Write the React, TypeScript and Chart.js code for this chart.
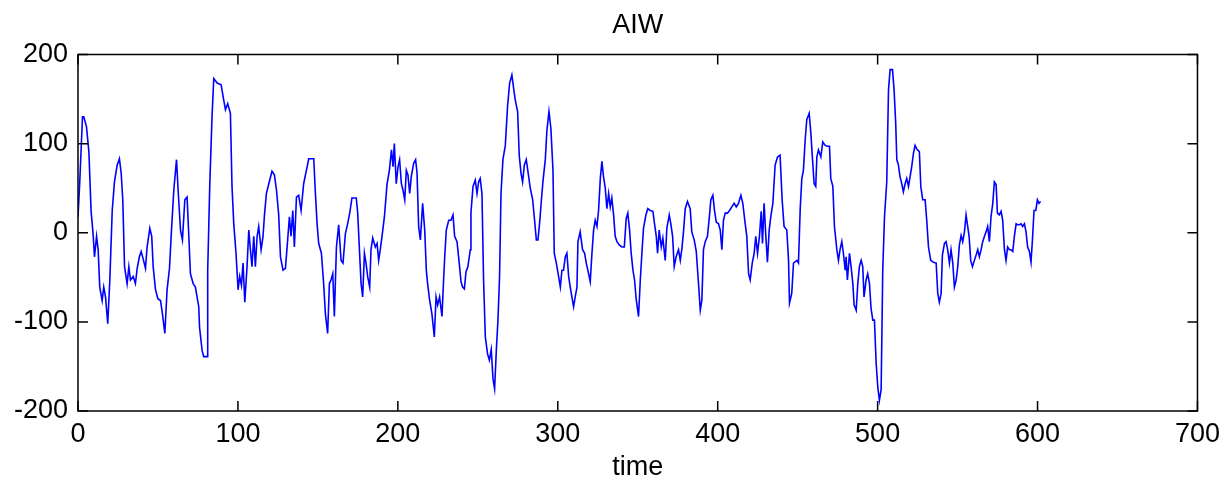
import React, { useEffect, useRef } from "react";
import { Chart, registerables } from "chart.js";

Chart.register(...registerables);

const chartTitle = "AIW";
const xAxisLabel = "time";
const xTicks = [0, 100, 200, 300, 400, 500, 600, 700];
const yTicks = [-200, -100, 0, 100, 200];

const times = [
  0, 1.1, 2.8, 3.6, 5.3, 6.8, 8.2, 9.5, 10.3, 11.6, 12.6, 13.6, 15.1, 16.1, 17.2, 18.6, 19.9, 21.4, 22.8, 24.5,
  25.9, 27, 28, 29.1, 30.7, 31.8, 32.8, 34.5, 35.9, 37, 38.4, 39.5, 40.7, 42.2, 43.2, 44.9, 46.1, 47, 48.4, 49.9,
  51.6, 52.8, 54.3, 55.7, 57.2, 58.4, 59.9, 61.6, 62.6, 64.1, 65.3, 66.8, 68.2, 69.3, 70.3, 72, 73.4, 75.5, 76, 77.6,
  78.6, 80.7, 81.1, 82.4, 83.8, 84.9, 87, 89.5, 91.1, 92.2, 93.6, 95.3, 96.3, 97.4, 98.8, 100.1, 101.1, 102.2, 103.2, 104.3,
  105.7, 106.8, 107.8, 108.8, 109.9, 110.9, 112, 113, 114.5, 115.7, 116.6, 117.8, 119.3, 121.3, 122.8, 124.1, 125.5, 126.6, 128.2, 129.7,
  131.1, 132.2, 133.2, 134.3, 135.3, 136.6, 138, 139.5, 141.1, 142.8, 144.3, 147.4, 148.4, 149.5, 150.5, 152.2, 153.6, 154.7, 156.1, 157.2,
  158.2, 159.3, 160.3, 161.6, 163, 164.5, 165.7, 167.2, 168.6, 169.9, 171.3, 174, 174.9, 175.9, 177, 178, 179.1, 180.1, 181.1, 182.4,
  183.2, 184.3, 185.9, 187, 188, 189, 190.1, 191.6, 193.2, 194.7, 196, 197, 197.8, 199, 200.1, 201.1, 202.2, 203.2, 204.3, 205.3,
  206.3, 207.4, 208.4, 209.9, 211.1, 212, 213, 214.1, 215.5, 216.8, 217.8, 218.6, 219.9, 221.3, 222.8, 223.9, 224.9, 226.1, 227.6, 228.6,
  229.3, 230.3, 231.8, 233.2, 234.5, 235.5, 237, 238.6, 239.5, 240.5, 241.6, 242.6, 243.8, 245.3, 245.7, 247, 248.4, 249.5, 250.5, 251.5,
  252.6, 253.6, 254.7, 256.1, 257.2, 258.4, 259.5, 260.5, 261.6, 262.6, 263.6, 264.5, 265.7, 267.2, 268.6, 269.9, 271.3, 272.4, 273.4, 274.9,
  275.9, 277, 278, 279.1, 280.3, 281.8, 282.8, 284.3, 285.3, 286.6, 287.6, 288.6, 289.7, 290.7, 292.2, 293.2, 294.5, 295.7, 297, 297.8,
  299.1, 300.5, 301.6, 302.6, 303.6, 304.7, 305.7, 306.8, 307.8, 308.8, 309.9, 310.9, 312, 312.6, 314, 315.5, 316.8, 317.8, 318.8, 320.3,
  321.3, 322.4, 323.4, 324.5, 325.5, 326.6, 327.6, 328.6, 329.7, 330.7, 331.8, 332.8, 333.8, 334.9, 335.9, 337, 338.6, 340.1, 341.6, 342.8,
  343.8, 344.9, 345.9, 347, 348, 349, 350.5, 351.6, 352.6, 353.6, 355.1, 356.3, 357.8, 359.5, 360.5, 361.6, 362.4, 363.4, 364.7, 365.7,
  367.2, 368.2, 369.7, 370.7, 371.8, 372.8, 374, 375.5, 376.6, 377.6, 378.6, 379.7, 381.1, 382.8, 383.8, 385.3, 386.6, 388, 389.1, 390.1,
  391.1, 392.2, 393.6, 394.9, 395.7, 397, 398, 399.1, 400.5, 401.6, 402.6, 403.6, 404.7, 406.1, 407.4, 408.8, 410.3, 411.6, 413, 414.5,
  415.7, 417.2, 418.2, 419.3, 420.3, 421.6, 422.8, 423.8, 424.9, 426.1, 427.2, 428, 429, 430.1, 431.1, 432.2, 433.2, 434.5, 435.9, 437.4,
  439, 440.3, 441.5, 443.2, 444.3, 444.9, 446.3, 447.4, 449.5, 450.5, 451.6, 452.6, 453.6, 454.7, 455.7, 457.2, 458.2, 459.3, 460.3, 461.3,
  462, 463, 464.5, 465.7, 467.2, 468.6, 469.9, 470.7, 472, 473, 474.5, 475.5, 476.5, 477.6, 478.6, 479.7, 480.3, 481.1, 482.4, 483.4,
  484.5, 485.3, 486.6, 487.6, 488.6, 489.7, 490.7, 491.5, 492.8, 493.8, 494.9, 495.9, 497, 498, 499.1, 500.1, 501.1, 502.2, 503.2, 504.3,
  505.7, 506.8, 507.8, 509.3, 510.3, 511.3, 512, 513, 514, 515.1, 516.1, 517.2, 518.2, 519.3, 520.3, 521.3, 522.4, 523.4, 524.5, 526.1,
  527, 528.2, 529.7, 530.7, 531.8, 533.2, 534.9, 536.6, 537.6, 538.6, 539.7, 540.5, 541.8, 542.8, 543.8, 544.9, 545.9, 547, 548, 549.1,
  550.1, 551.1, 552.2, 553.2, 554.3, 555.3, 556.1, 557.2, 558.2, 559.3, 560.5, 561.6, 562.6, 563.6, 564.7, 565.7, 566.8, 567.8, 568.8, 569.9,
  570.9, 572, 573, 574.1, 574.9, 576.1, 577.2, 578.2, 579.3, 580.3, 581.3, 582.4, 583.4, 584.5, 585.5, 586.6, 587.6, 588.6, 589.7, 590.7,
  591.8, 592.8, 593.8, 594.9, 595.9, 596.8, 597.8, 598.9, 599.9, 600.9, 601.9,
];

const aiw = [
  18, 57, 130, 130, 119, 91, 24, -3, -27, -4, -19, -61, -76, -61, -72, -102, -53, 25, 57, 76,
  83, 67, 37, -38, -57, -38, -53, -49, -57, -40, -27, -21, -29, -40, -16, 5, -4, -38, -63, -74,
  -76, -91, -113, -64, -40, 1, 48, 82, 48, 3, -8, 37, 40, -4, -46, -57, -61, -83, -106, -132,
  -139, -139, -42, 54, 130, 173, 168, 166, 149, 138, 145, 134, 52, 10, -23, -64, -49, -59, -34, -78,
  -38, 3, -19, -38, -4, -38, -4, 7, -19, -4, 20, 44, 55, 69, 65, 48, 20, -27, -42, -40,
  -8, 18, -4, 25, -16, 40, 42, 25, 55, 70, 83, 83, 46, 10, -12, -23, -57, -91, -113, -57,
  -53, -46, -94, -16, 9, -31, -34, -1, 10, 22, 39, 39, 22, -16, -57, -72, -23, -34, -49, -61,
  -19, -6, -16, -12, -31, -19, -4, 18, 54, 70, 93, 74, 100, 55, 74, 82, 55, 48, 37, 70,
  65, 44, 63, 78, 82, 67, 7, -8, 33, 3, -42, -57, -76, -91, -117, -72, -81, -72, -94, -53,
  -27, 3, 14, 14, 20, -4, -10, -38, -55, -61, -63, -44, -38, -19, 22, 52, 59, 44, 57, 61,
  44, -53, -117, -136, -143, -131, -164, -175, -131, -98, -49, 44, 82, 98, 142, 168, 177, 162, 149, 136,
  87, 67, 57, 76, 82, 63, 50, 37, 18, -8, -8, 10, 35, 57, 82, 115, 136, 117, 70, -23,
  -34, -49, -61, -42, -42, -27, -23, -49, -61, -72, -83, -72, -61, -10, 1, -19, -23, -34, -42, -55,
  -25, 3, 14, 7, 25, 61, 80, 63, 50, 27, 44, 29, 39, 20, -4, -10, -14, -16, -16, 16,
  22, 3, -23, -42, -53, -74, -94, -53, -23, 5, 20, 27, 25, 24, 10, -4, -23, 3, -16, -6,
  -31, 5, 20, 10, -4, -38, -27, -19, -31, -18, 1, 27, 35, 27, 1, -8, -21, -57, -87, -76,
  -19, -10, -4, 20, 37, 42, 25, 12, 10, 3, -19, 14, 22, 22, 25, 29, 33, 29, 33, 42,
  33, 10, -4, -46, -53, -34, -23, -4, -23, -4, 24, -12, 33, -4, -33, 3, 18, 33, 76, 85,
  87, 37, 7, 3, -31, -79, -68, -34, -31, -34, 27, 61, 70, 104, 127, 134, 113, 82, 55, 52,
  85, 93, 85, 102, 98, 97, 97, 61, 52, 7, -19, -31, -19, -10, -23, -42, -27, -53, -23, -38,
  -57, -81, -87, -57, -38, -31, -38, -72, -53, -46, -57, -85, -98, -98, -147, -173, -188, -176, -42, 18,
  57, 160, 183, 183, 160, 123, 82, 76, 63, 55, 46, 55, 61, 52, 63, 74, 89, 98, 94, 91,
  52, 37, 37, 14, -16, -31, -33, -34, -68, -78, -68, -25, -12, -10, -19, -34, -19, -34, -61, -53,
  -38, -14, -3, -10, 1, 20, 10, -4, -31, -38, -31, -25, -19, -27, -19, -10, -4, 1, 7, -10,
  18, 33, 57, 54, 22, 20, 24, 14, -19, -31, -16, -19, -19, -21, -4, 10, 9, 9, 10, 7,
  10, 1, -16, -21, -33, -8, 25, 25, 37, 33, 35,
];

const FONT = "'Liberation Sans', Arial, sans-serif";
const FONT_SIZE = 27;

const boxPlugin = {
  id: "matlabBox",
  afterDatasetsDraw(chart: any) {
    const { ctx, chartArea, scales } = chart;
    const { left, right, top, bottom } = chartArea;
    ctx.save();
    ctx.strokeStyle = "#000";
    ctx.lineWidth = 1.5;
    ctx.strokeRect(left, top, right - left, bottom - top);
    const tl = 10;
    ctx.beginPath();
    for (const v of xTicks) {
      const px = scales.x.getPixelForValue(v);
      ctx.moveTo(px, bottom);
      ctx.lineTo(px, bottom - tl);
      ctx.moveTo(px, top);
      ctx.lineTo(px, top + tl);
    }
    for (const v of yTicks) {
      const py = scales.y.getPixelForValue(v);
      ctx.moveTo(left, py);
      ctx.lineTo(left + tl, py);
      ctx.moveTo(right, py);
      ctx.lineTo(right - tl, py);
    }
    ctx.stroke();
    // title centred over the plot area
    ctx.fillStyle = "#000";
    ctx.font = `${FONT_SIZE}px ${FONT}`;
    ctx.textAlign = "center";
    ctx.textBaseline = "alphabetic";
    ctx.fillText(chartTitle, (left + right) / 2, 33);
    ctx.restore();
  },
};

export default function App() {
  const ref = useRef<HTMLCanvasElement | null>(null);

  useEffect(() => {
    document.body.style.margin = "0";
    const canvas = ref.current;
    if (!canvas) return;
    const points = times.map((t, i) => ({ x: t, y: aiw[i] }));
    const chart = new Chart(canvas, {
      type: "line",
      data: {
        datasets: [
          {
            label: chartTitle,
            data: points,
            borderColor: "#0000ff",
            borderWidth: 1.6,
            pointRadius: 0,
            tension: 0,
            fill: false,
          },
        ],
      },
      options: {
        animation: false,
        responsive: false,
        maintainAspectRatio: false,
        layout: { padding: { left: 0, right: 29, top: 54.5, bottom: 0 } },
        plugins: {
          legend: { display: false },
          tooltip: { enabled: false },
          title: { display: false },
        },
        scales: {
          x: {
            type: "linear",
            min: 0,
            max: 700,
            afterBuildTicks: (s: any) => {
              s.ticks = xTicks.map((v) => ({ value: v }));
            },
            afterFit: (s: any) => {
              s.height = 71;
            },
            grid: { display: false, drawTicks: false },
            border: { display: false },
            ticks: {
              color: "#000",
              padding: 7,
              maxRotation: 0,
              autoSkip: false,
              font: { family: FONT, size: FONT_SIZE },
            },
            title: {
              display: true,
              text: xAxisLabel,
              color: "#000",
              font: { family: FONT, size: FONT_SIZE },
              padding: { top: 0, bottom: -2 },
            },
          },
          y: {
            type: "linear",
            min: -200,
            max: 200,
            afterBuildTicks: (s: any) => {
              s.ticks = yTicks.map((v) => ({ value: v }));
            },
            afterFit: (s: any) => {
              s.width = 78;
            },
            grid: { display: false, drawTicks: false },
            border: { display: false },
            ticks: {
              color: "#000",
              padding: 10,
              autoSkip: false,
              font: { family: FONT, size: FONT_SIZE },
            },
          },
        },
      },
      plugins: [boxPlugin],
    });
    return () => chart.destroy();
  }, []);

  return (
    <div style={{ position: "absolute", left: 0, top: 0, width: 1227, height: 482, background: "#fff" }}>
      <canvas ref={ref} width={1227} height={482} style={{ width: 1227, height: 482 }} />
    </div>
  );
}
